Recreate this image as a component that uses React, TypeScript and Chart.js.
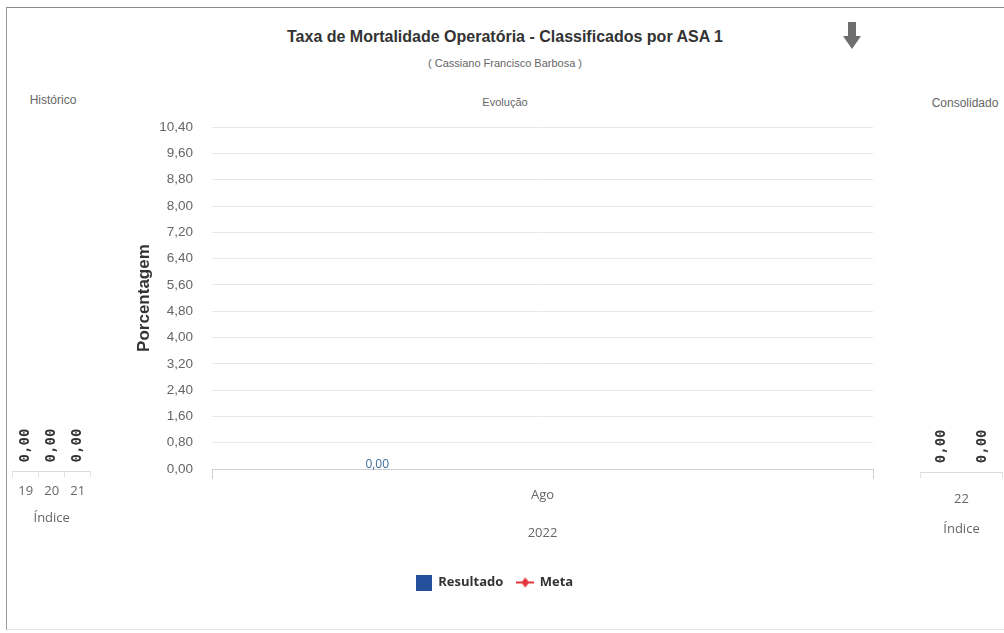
import React, { useEffect, useRef } from "react";
import { Chart, registerables } from "chart.js";

Chart.register(...registerables);

// ---------- data ----------
const chartTitle = "Taxa de Mortalidade Operatória - Classificados por ASA 1";
const chartSubtitle = "( Cassiano Francisco Barbosa )";
const panelTitles = ["Histórico", "Evolução", "Consolidado"];
const seriesNames = ["Resultado", "Meta"];

const historicoCategorias = ["19", "20", "21"];
const historicoResultado = [0, 0, 0];

const evolucaoCategorias = ["Ago"];
const evolucaoAno = "2022";
const evolucaoResultado: (number | null)[] = [0];
const evolucaoMeta: (number | null)[] = [null];

const consolidadoCategorias = ["22"];
const consolidadoResultado = [0];
const consolidadoMeta = [0];

const eixoIndice = "Índice";
const eixoY = "Porcentagem";
const yTickValues = [0, 0.8, 1.6, 2.4, 3.2, 4.0, 4.8, 5.6, 6.4, 7.2, 8.0, 8.8, 9.6, 10.4];

// ---------- styles ----------
const BLUE = "#24509c";
const RED = "#e2363c";
const SANS = "'Liberation Sans', Arial, sans-serif";
const OPEN = "'Open Sans', 'Noto Sans', sans-serif";
const MONO = "'DejaVu Sans Mono', monospace";

const fmt = (v: number) => v.toFixed(2).replace(".", ",");

const valueLabels = {
  id: "valueLabels",
  afterDatasetsDraw(chart: any, _args: any, opts: any) {
    if (!opts || !opts.display) return;
    const ctx = chart.ctx;
    chart.data.datasets.forEach((ds: any, di: number) => {
      const meta = chart.getDatasetMeta(di);
      if (meta.hidden || meta.type !== "bar") return;
      meta.data.forEach((el: any, i: number) => {
        const v = ds.data[i];
        if (v === null || v === undefined) return;
        const text = fmt(v);
        ctx.save();
        ctx.font = opts.font;
        ctx.fillStyle = opts.color;
        if (opts.rotate) {
          ctx.translate(el.x, el.y - opts.offset);
          ctx.rotate(-Math.PI / 2);
          ctx.textAlign = "left";
          ctx.textBaseline = "middle";
          ctx.fillText(text, 0, 0);
        } else {
          ctx.textAlign = "center";
          ctx.textBaseline = "middle";
          ctx.fillText(text, el.x, el.y - opts.offset);
        }
        ctx.restore();
      });
    });
  },
};

function makeSquare(): HTMLCanvasElement {
  const c = document.createElement("canvas");
  c.width = 16;
  c.height = 16;
  const g = c.getContext("2d")!;
  g.fillStyle = BLUE;
  g.fillRect(0, 0, 16, 16);
  return c;
}

function makeMetaMarker(): HTMLCanvasElement {
  const c = document.createElement("canvas");
  c.width = 18;
  c.height = 12;
  const g = c.getContext("2d")!;
  g.strokeStyle = RED;
  g.lineWidth = 2;
  g.beginPath();
  g.moveTo(0, 6);
  g.lineTo(18, 6);
  g.stroke();
  g.fillStyle = RED;
  g.beginPath();
  g.moveTo(9, 1);
  g.lineTo(13, 6);
  g.lineTo(9, 11);
  g.lineTo(5, 6);
  g.closePath();
  g.fill();
  return c;
}

function ChartBox(props: { left: number; top: number; width: number; height: number; make: () => any }) {
  const ref = useRef<HTMLCanvasElement | null>(null);
  useEffect(() => {
    if (!ref.current) return;
    const chart = new Chart(ref.current, props.make());
    return () => chart.destroy();
  }, []);
  return (
    <canvas
      ref={ref}
      width={props.width}
      height={props.height}
      style={{ position: "absolute", left: props.left, top: props.top, width: props.width, height: props.height }}
    />
  );
}

const yHidden = { display: false, min: 0, max: 10.4 };

function sideXAxis(labelsTitle: string, tickPad: number, titlePad: { top: number; bottom: number }) {
  return {
    offset: true,
    grid: { display: true, drawOnChartArea: false, drawTicks: true, tickLength: 6, color: "#e2e2e2", offset: true },
    border: { display: true, color: "#dcdcdc" },
    ticks: { color: "#666", font: { family: OPEN, size: 13 }, padding: tickPad },
    title: { display: true, text: labelsTitle, color: "#666", font: { family: OPEN, size: 13 }, padding: titlePad },
  };
}

const barBase = { categoryPercentage: 1, inflateAmount: 0, borderWidth: 0 };

const makeHistorico = () => ({
  type: "bar",
  data: {
    labels: historicoCategorias,
    datasets: [{ label: seriesNames[0], data: historicoResultado, backgroundColor: BLUE, barPercentage: 0.8, ...barBase }],
  },
  plugins: [valueLabels],
  options: {
    animation: false,
    responsive: false,
    layout: { padding: { left: 12.7, right: 5.3, top: 10, bottom: 0 } },
    scales: { x: sideXAxis(eixoIndice, 6, { top: 5.4, bottom: 4 }), y: yHidden },
    plugins: {
      legend: { display: false },
      tooltip: { enabled: false },
      valueLabels: { display: true, rotate: true, offset: 9, font: `bold 14px ${MONO}`, color: "#333" },
    },
  },
});

const makeConsolidado = () => ({
  type: "bar",
  data: {
    labels: consolidadoCategorias,
    datasets: [
      { label: seriesNames[0], data: consolidadoResultado, backgroundColor: BLUE, barPercentage: 1, ...barBase },
      { label: seriesNames[1], data: consolidadoMeta, backgroundColor: RED, barPercentage: 1, ...barBase },
    ],
  },
  plugins: [valueLabels],
  options: {
    animation: false,
    responsive: false,
    layout: { padding: { left: 15.5, right: 1.5, top: 10, bottom: 0 } },
    scales: { x: sideXAxis(eixoIndice, 13, { top: 1.6, bottom: 4 }), y: yHidden },
    plugins: {
      legend: { display: false },
      tooltip: { enabled: false },
      valueLabels: { display: true, rotate: true, offset: 9, font: `bold 14px ${MONO}`, color: "#333" },
    },
  },
});

const makeEvolucao = () => {
  const square = makeSquare();
  const marker = makeMetaMarker();
  return {
    type: "bar",
    data: {
      labels: evolucaoCategorias,
      datasets: [
        { label: seriesNames[0], data: evolucaoResultado, backgroundColor: BLUE, barPercentage: 1, ...barBase },
        { label: seriesNames[1], data: evolucaoMeta, backgroundColor: RED, barPercentage: 1, ...barBase },
      ],
    },
    plugins: [valueLabels],
    options: {
      animation: false,
      responsive: false,
      layout: { padding: { left: 6, right: 8, top: 27, bottom: 0 } },
      scales: {
        x: {
          offset: true,
          grid: { display: true, drawOnChartArea: false, drawTicks: true, tickLength: 10, color: "#cfcfcf", offset: true },
          border: { display: true, color: "#cfcfcf" },
          ticks: { color: "#666", font: { family: OPEN, size: 13 }, padding: 8 },
          title: { display: true, text: evolucaoAno, color: "#666", font: { family: OPEN, size: 13 }, padding: { top: 14.6, bottom: 21.2 } },
        },
        y: {
          min: 0,
          max: 10.4,
          afterBuildTicks: (scale: any) => {
            scale.ticks = yTickValues.map((v) => ({ value: v }));
          },
          afterFit: (scale: any) => {
            scale.width = 96;
          },
          grid: { color: "#e8e8e8", drawTicks: false },
          border: { display: false },
          ticks: { color: "#666", font: { family: SANS, size: 13.5 }, padding: 19, callback: (v: any) => fmt(Number(v)) },
          title: { display: true, text: eixoY, color: "#333", font: { family: SANS, size: 17, weight: "bold" }, padding: { top: 17.8, bottom: 4 } },
        },
      },
      plugins: {
        tooltip: { enabled: false },
        legend: {
          display: true,
          position: "bottom",
          labels: {
            usePointStyle: true,
            pointStyleWidth: 16,
            padding: 14,
            color: "#333",
            font: { family: OPEN, size: 13, weight: "bold" },
            generateLabels: () => [
              { text: seriesNames[0], pointStyle: square, fillStyle: BLUE, strokeStyle: BLUE, lineWidth: 0, hidden: false, datasetIndex: 0, fontColor: "#333" },
              { text: seriesNames[1], pointStyle: marker, fillStyle: RED, strokeStyle: RED, lineWidth: 0, hidden: false, datasetIndex: 1, fontColor: "#333" },
            ],
          },
        },
        valueLabels: { display: true, rotate: false, offset: 4, font: `12px ${OPEN}`, color: "#3d6d9e" },
      },
    },
  };
};

const textStyle = (x: number, y: number, size: number, color: string, extra: any = {}) => ({
  position: "absolute" as const,
  left: x,
  top: y,
  transform: "translate(-50%, -50%)",
  whiteSpace: "nowrap" as const,
  fontSize: size,
  color,
  fontFamily: SANS,
  lineHeight: 1,
  ...extra,
});

export default function App() {
  return (
    <div style={{ position: "absolute", left: 0, top: 0, width: 1004, height: 633, background: "#fff", overflow: "hidden" }}>
      <div style={{ position: "absolute", left: 6, top: 7, width: 1010, height: 621, borderLeft: "1px solid #9a9a9a", borderTop: "1px solid #8a8a8a", borderBottom: "1px solid #e4e4e4" }} />
      <div style={textStyle(505, 37, 16, "#333", { fontWeight: "bold" })}>{chartTitle}</div>
      <div style={textStyle(505, 63, 11, "#666")}>{chartSubtitle}</div>
      <svg style={{ position: "absolute", left: 843, top: 22 }} width={18} height={28} viewBox="0 0 18 28">
        <path d="M5 0 H13 V14 H18 L9 27 L0 14 H5 Z" fill="#6e6e6e" />
      </svg>
      <div style={textStyle(53, 100, 12, "#666")}>{panelTitles[0]}</div>
      <div style={textStyle(505, 102, 11, "#666")}>{panelTitles[1]}</div>
      <div style={textStyle(965, 103, 12, "#666")}>{panelTitles[2]}</div>
      <ChartBox left={0} top={120} width={96} height={410} make={makeHistorico} />
      <ChartBox left={110} top={100} width={771} height={499} make={makeEvolucao} />
      <ChartBox left={905} top={120} width={99} height={421} make={makeConsolidado} />
    </div>
  );
}
